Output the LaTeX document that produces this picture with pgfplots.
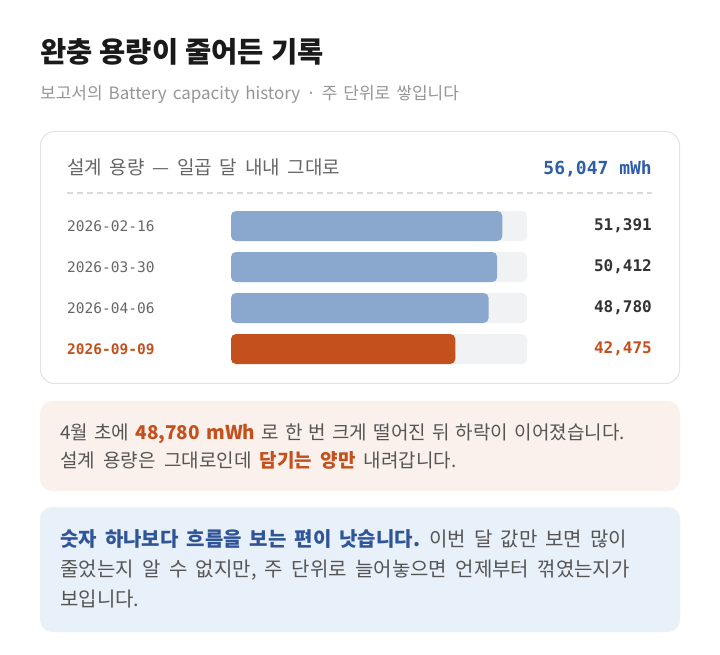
\documentclass[border=0pt]{standalone}
\usepackage{pgfplots}
\pgfplotsset{compat=1.18}
\usepackage{fontspec}
\setmainfont{Noto Sans CJK KR}
\setmonofont{DejaVu Sans Mono}
\definecolor{titlecol}{HTML}{1A1A1A}
\definecolor{subgray}{HTML}{969696}
\definecolor{headgray}{HTML}{666666}
\definecolor{dategray}{HTML}{666666}
\definecolor{valdark}{HTML}{333333}
\definecolor{blueval}{HTML}{2E5EA8}
\definecolor{barblue}{HTML}{8AA8CE}
\definecolor{track}{HTML}{F1F2F4}
\definecolor{accent}{HTML}{C4501E}
\definecolor{cardborder}{HTML}{E3E3E3}
\definecolor{peach}{HTML}{FBF1EC}
\definecolor{lightblue}{HTML}{E8F0F9}
\definecolor{bodytext}{HTML}{555555}
\definecolor{boldblue}{HTML}{2F5597}
\definecolor{dashcol}{HTML}{DADADA}
\newcommand\fs[2]{\fontsize{#1}{#1}\selectfont\spaceskip=#2pt plus 0pt minus 0pt\relax}
\begin{document}
\begin{tikzpicture}[x=1pt,y=1pt]
\path[fill=white] (0,0) rectangle (720,654);
% title
\node[anchor=base west, inner sep=0pt, text=titlecol] at (40,{654-63})
  {\fs{28.5}{7.1}\bfseries 완충 용량이 줄어든 기록};
\node[anchor=base west, inner sep=0pt, text=subgray] at (40,{654-100})
  {\fs{17}{6}보고서의 Battery capacity history · 주 단위로 쌓입니다};
% card
\draw[draw=cardborder, fill=white, line width=1pt, rounded corners=14pt]
  (40.5,{654-383.5}) rectangle (679.5,{654-131.5});
\node[anchor=base west, inner sep=0pt, text=headgray] at (67,{654-175})
  {\fs{19}{7.7}설계 용량 — 일곱 달 내내 그대로};
\node[anchor=base east, inner sep=0pt, text=blueval] at (652,{654-175})
  {\fontsize{18}{20}\selectfont\ttfamily\bfseries 56,047 mWh};
\draw[dashcol, line width=2pt, dash pattern=on 6pt off 4pt] (67,{654-193}) -- (652,{654-193});
% bars
\begin{axis}[at={(231pt,284.5pt)}, anchor=south west, scale only axis,
  width=296pt, height=164pt, xmin=0, xmax=56047, ymin=0.5, ymax=4.5,
  y dir=reverse, xbar, bar width=30pt, bar shift=0pt,
  axis line style={draw=none}, xtick=\empty, ytick={1,2,3,4},
  yticklabels={2026-02-16,2026-03-30,2026-04-06,{\color{accent}\bfseries 2026-09-09}},
  major tick length=0pt, clip=false,
  yticklabel style={anchor=west, inner sep=0pt, xshift=-164pt,
    font=\ttfamily\fontsize{14.5}{16}\selectfont, text=dategray}]
\addplot[xbar, bar shift=0pt, fill=track, draw=none, rounded corners=5pt]
  coordinates {(56047,1) (56047,2) (56047,3) (56047,4)};
\addplot[xbar, bar shift=0pt, fill=barblue, draw=none, rounded corners=5pt]
  coordinates {(51391,1) (50412,2) (48780,3)};
\addplot[xbar, bar shift=0pt, fill=accent, draw=none, rounded corners=5pt]
  coordinates {(42475,4)};
\end{axis}
\begin{axis}[at={(231pt,284.5pt)}, anchor=south west, scale only axis,
  width=296pt, height=164pt, xmin=0, xmax=56047, ymin=0.5, ymax=4.5,
  y dir=reverse, axis line style={draw=none}, xtick=\empty, ytick={1,2,3,4},
  yticklabel pos=right,
  yticklabels={{51,391},{50,412},{48,780},{\color{accent}42,475}},
  major tick length=0pt,
  yticklabel style={anchor=east, inner sep=0pt, xshift=125pt,
    font=\ttfamily\bfseries\fontsize{16}{18}\selectfont, text=valdark}]
\end{axis}
% callout 1
\fill[peach, rounded corners=12pt] (40,{654-491}) rectangle (680,{654-401});
\node[anchor=base west, inner sep=0pt, text=bodytext] at (60,{654-439})
  {\fs{19}{6.2}4월 초에 \textcolor{accent}{\bfseries 48,780 mWh} 로 한 번 크게 떨어진 뒤 하락이 이어졌습니다.};
\node[anchor=base west, inner sep=0pt, text=bodytext] at (60,{654-467})
  {\fs{19}{8.3}설계 용량은 그대로인데 \textcolor{accent}{\bfseries 담기는 양만} 내려갑니다.};
% callout 2
\fill[lightblue, rounded corners=12pt] (40,{654-632}) rectangle (680,{654-507});
\node[anchor=base west, inner sep=0pt, text=bodytext] at (60,{654-546})
  {\fs{20}{8}\textcolor{boldblue}{\bfseries 숫자 하나보다 흐름을 보는 편이 낫습니다.} 이번 달 값만 보면 많이};
\node[anchor=base west, inner sep=0pt, text=bodytext] at (60,{654-576})
  {\fs{20}{8.4}줄었는지 알 수 없지만, 주 단위로 늘어놓으면 언제부터 꺾였는지가};
\node[anchor=base west, inner sep=0pt, text=bodytext] at (60,{654-606})
  {\fs{20}{8}보입니다.};
\end{tikzpicture}
\end{document}
